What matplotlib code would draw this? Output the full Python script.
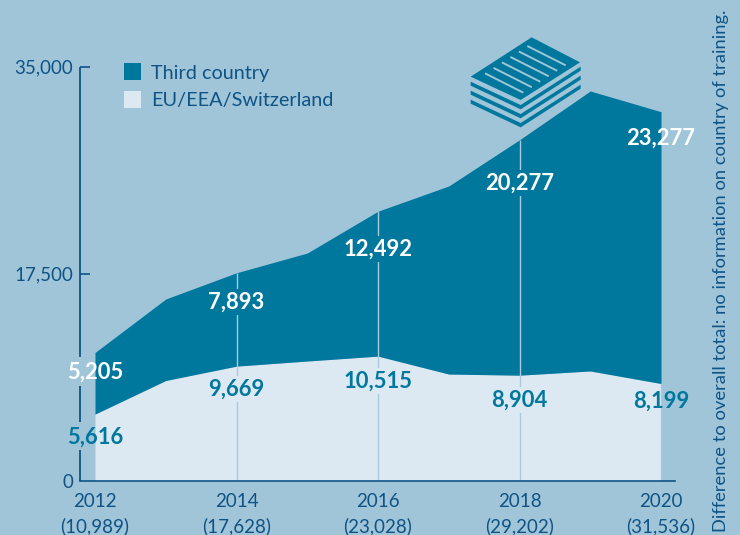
import matplotlib
matplotlib.use("Agg")
import matplotlib.pyplot as plt
import numpy as np
from matplotlib.patches import Polygon

# ===============================
# DATA
# ===============================
years = [2012, 2013, 2014, 2015, 2016, 2017, 2018, 2019, 2020]
eu_eea = [5616, 8454, 9669, 10100, 10515, 9000, 8904, 9260, 8199]
third_country = [5205, 6890, 7893, 9130, 12250, 15900, 19900, 23670, 22980]

label_years = [2012, 2014, 2016, 2018, 2020]
label_totals = ["(10,989)", "(17,628)", "(23,028)", "(29,202)", "(31,536)"]
label_eu = [5616, 9669, 10515, 8904, 8199]
label_third = [5205, 7893, 12492, 20277, 23277]

y_ticks = [0, 17500, 35000]
note = "Difference to overall total: no information on country of training."

BG = "#a0c5d9"
DARK = "#00789e"
LIGHT = "#dce9f3"
TXT = "#0f5385"
GUIDE = "#a9c9dc"

plt.rcParams["font.family"] = ["Lato", "DejaVu Sans"]

W, H = 740, 535
fig = plt.figure(figsize=(W / 100, H / 100), dpi=100, facecolor=BG)

# pixel box of the plot
ax = fig.add_axes([80 / W, 1 - 480.5 / H, (675 - 80) / W, 414 / H])
ax.set_facecolor("none")

x_per_px = 1 / 70.75
ax.set_xlim(2012 - 15 * x_per_px, 2020 + 14 * x_per_px)
ax.set_ylim(0, 35000)

eu = np.array(eu_eea)
third = np.array(third_country)
ax.fill_between(years, 0, eu, color=LIGHT, lw=0)
ax.fill_between(years, eu, eu + third, color=DARK, lw=0)

# guide lines, labels below cover them with a box
for yr in label_years[1:4]:
    i = years.index(yr)
    ax.plot([yr, yr], [0, eu[i] + third[i]], color=GUIDE, lw=1, solid_capstyle="butt")
ax.plot([2020, 2020], [0, eu[-1]], color=GUIDE, lw=1)

# label heights
eu_label_y = [3677, 7735, 8410, 6805, 6720]
third_label_y = [9173, 15090, 19570, 25150, 28955]

for i, yr in enumerate(label_years):
    box1 = dict(facecolor=LIGHT, edgecolor="none", pad=2)
    box2 = dict(facecolor=DARK, edgecolor="none", pad=2)
    if yr in (2012, 2020):
        box1 = box2 = None
    ax.text(yr, eu_label_y[i], f"{label_eu[i]:,}", color=DARK, fontsize=15.8, fontweight="bold",
            ha="center", va="center", bbox=box1, zorder=5)
    ax.text(yr, third_label_y[i], f"{label_third[i]:,}", color="white", fontsize=15.8, fontweight="bold",
            ha="center", va="center", bbox=box2, zorder=5)
    ax.text(yr, -1800, str(yr), color=TXT, fontsize=13.5, ha="center", va="center", clip_on=False)
    ax.text(yr, -3847, label_totals[i], color=TXT, fontsize=13.5, ha="center", va="center", clip_on=False)

# spines, left one has gaps behind the 2012 labels
for s in ["top", "right", "left"]:
    ax.spines[s].set_visible(False)
ax.spines["bottom"].set_color(TXT)
ax.spines["bottom"].set_linewidth(1.2)
ax.spines["bottom"].set_zorder(6)

left_x = ax.get_xlim()[0]
for y0, y1 in [(0, 2580), (4970, 7990), (10440, 35000)]:
    ax.plot([left_x, left_x], [y0, y1], color=TXT, lw=1.3, clip_on=False,
            solid_capstyle="butt", zorder=6)

ax.set_xticks([])
ax.set_yticks(y_ticks)
ax.set_yticklabels([f"{v:,}" for v in y_ticks], color=TXT, fontsize=13.5)
ax.tick_params(axis="y", direction="in", length=7, width=1.2, color=TXT, pad=5)
ax.yaxis.get_major_ticks()[0].tick1line.set_visible(False)

# legend by hand
ax.add_patch(plt.Rectangle((0.0739, 0.9674), 0.0286, 0.041, transform=ax.transAxes,
                           color=DARK, lw=0, clip_on=False))
ax.add_patch(plt.Rectangle((0.0739, 0.8998), 0.0286, 0.041, transform=ax.transAxes,
                           color=LIGHT, lw=0, clip_on=False))
ax.text(0.1193, 0.982, "Third country", transform=ax.transAxes, color=TXT, fontsize=14.3, va="center")
ax.text(0.1193, 0.917, "EU/EEA/Switzerland", transform=ax.transAxes, color=TXT, fontsize=14.3, va="center")

fig.text(721 / W, 1 - 532 / H, note, rotation=90, color=TXT, fontsize=13.2,
         ha="center", va="bottom")

# ===============================
# PAPER STACK ICON (pixel coords)
# ===============================
ic = fig.add_axes([0, 0, 1, 1])
ic.set_xlim(0, W)
ic.set_ylim(H, 0)
ic.axis("off")


def zp(x, y):
    return (440 + x / 3, 20 + y / 3)


ic.add_patch(Polygon([zp(275, 52), zp(420, 127), zp(242, 240), zp(92, 170)], color=DARK, lw=0))
for dy in [0, 27, 54]:
    pts = [(92, 185), (242, 255), (422, 140), (422, 152), (242, 268), (92, 197)]
    ic.add_patch(Polygon([zp(a, b + dy) for a, b in pts], color=DARK, lw=0))
for i in range(6):
    dx, dy = 25.4 * i, -16.4 * i
    p0, p1 = zp(135 + dx, 160 + dy), zp(250 + dx, 218 + dy)
    ic.plot([p0[0], p1[0]], [p0[1], p1[1]], color=BG, lw=1.4, solid_capstyle="butt")

fig.savefig("out.png", dpi=100, facecolor=BG)
